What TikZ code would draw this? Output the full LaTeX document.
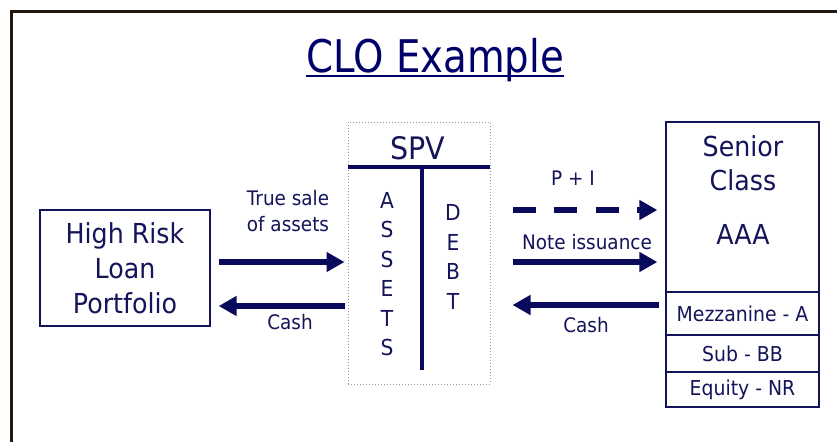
\documentclass[tikz,border=0pt]{standalone}
\usepackage{fontspec}
\setmainfont{DejaVu Sans}[FakeStretch=0.92]
\newfontfamily\titlefont{DejaVu Sans}[FakeStretch=0.86]
\usetikzlibrary{arrows.meta}
\definecolor{navy}{HTML}{14145A}
\definecolor{arrcol}{HTML}{0A0A5C}
\definecolor{titlecol}{HTML}{00006A}
\definecolor{framecol}{HTML}{221810}
\newcommand{\fs}[2]{\fontsize{#1}{#2}\selectfont}
\tikzset{
  txt/.style={text=navy, inner sep=0, align=center},
  box/.style={draw=navy, line width=1.3, fill=white, inner sep=0},
  arr/.style={draw=arrcol, line width=6, -{Triangle[length=18,width=19]}},
  divider/.style={draw=arrcol, line width=4.5},
}
\begin{document}
\begin{tikzpicture}[x=1pt,y=-1pt]
\useasboundingbox (0,0) rectangle (837,442);
\fill[white] (0,0) rectangle (837,442);
% frame
\coordinate (ftl) at (11.5,11.5);
\coordinate (ftr) at (837,11.5);
\coordinate (fbl) at (11.5,442);
\draw[framecol, line width=3.5] (ftr) -- (ftl) -- (fbl);
% title
\node[text=titlecol, inner sep=0, font=\titlefont\fs{45}{54}] (title) at (435,60) {CLO Example};
\draw[titlecol, line width=2] ([yshift=-3.5]title.base west) -- ([yshift=-3.5]title.base east);
% left box
\node[box, minimum width=170, minimum height=116, txt, font=\fs{27.5}{35}] (hr) at (125,268) {High Risk\\Loan\\Portfolio};
% SPV
\node[draw=gray!80, dotted, line width=1, minimum width=142, minimum height=262, inner sep=0] (spv) at (419,253) {};
\node[txt, font=\fs{31}{36}] (spvt) at (418,148) {SPV};
\coordinate (hl) at (348,167);
\coordinate (hr2) at (490,167);
\coordinate (vt) at (422,167);
\coordinate (vb) at (422,370);
\draw[divider] (hl) -- (hr2);
\draw[divider] (vt) -- (vb);
\node[txt, font=\fs{22}{29.5}] (assets) at (387,274) {A\\S\\S\\E\\T\\S};
\node[txt, font=\fs{22}{29.5}] (debt) at (453,257) {D\\E\\B\\T};
% right stack
\node[box, minimum width=153, minimum height=170] (senior) at (742.5,207) {};
\node[box, minimum width=153, minimum height=43, txt, font=\fs{20.5}{24}] (mezz) at (742.5,313.5) {Mezzanine - A};
\node[box, minimum width=153, minimum height=37, txt, font=\fs{20.5}{24}] (sub) at (742.5,353.5) {Sub - BB};
\node[box, minimum width=153, minimum height=35, txt, font=\fs{20.5}{24}] (eq) at (742.5,389.5) {Equity - NR};
\node[txt, font=\fs{27.5}{34}] (sc) at (743,163) {Senior\\Class};
\node[txt, font=\fs{27.5}{34}] (aaa) at (743,234) {AAA};
% left arrows
\draw[arr, shorten <=8, shorten >=3] (hr.east |- 0,262) -- (spv.west |- 0,262);
\draw[arr, shorten <=3, shorten >=8] (spv.west |- 0,306) -- (hr.east |- 0,306);
\node[txt, font=\fs{20}{26}] (ts) at (288,211) {True sale\\of assets};
\node[txt, font=\fs{20}{26}] (cash1) at (290,322) {Cash};
% right arrows
\draw[arr, dash pattern=on 23 off 18.5, shorten <=22, shorten >=8] (spv.east |- 0,210) -- (senior.west |- 0,210);
\draw[arr, shorten <=22, shorten >=8] (spv.east |- 0,262) -- (senior.west |- 0,262);
\draw[arr, shorten <=6, shorten >=22] (senior.west |- 0,305) -- (spv.east |- 0,305);
\node[txt, font=\fs{20}{26}] (pi) at (573,178) {P + I};
\node[txt, font=\fs{20}{26}] (ni) at (587,242) {Note issuance};
\node[txt, font=\fs{20}{26}] (cash2) at (586,325) {Cash};
\end{tikzpicture}
\end{document}
